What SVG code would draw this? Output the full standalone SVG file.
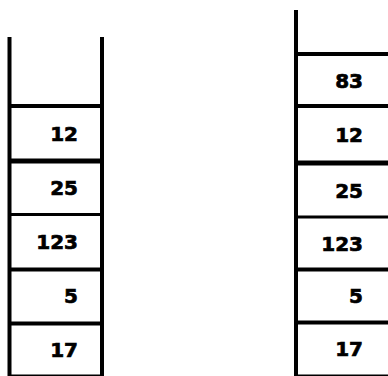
<svg xmlns="http://www.w3.org/2000/svg" width="388" height="376" viewBox="0 0 388 376">
<style>
.w{stroke:#000;stroke-width:4;fill:none}
.h{stroke:#000;fill:none}
.t{font-family:"DejaVu Sans","Liberation Sans",Arial,sans-serif;font-weight:bold;font-size:20px;fill:#000;stroke:#000;stroke-width:0.7;text-anchor:end}
</style>
<rect width="388" height="376" fill="#fff"/>
<g id="stack-left">
  <line class="w" x1="9.5" y1="37" x2="9.5" y2="376"/>
  <line class="w" x1="102" y1="37" x2="102" y2="376"/>
  <line class="h" stroke-width="4" x1="9.5" y1="106" x2="102" y2="106"/>
  <line class="h" stroke-width="5" x1="9.5" y1="161" x2="102" y2="161"/>
  <line class="h" stroke-width="3" x1="9.5" y1="214.5" x2="102" y2="214.5"/>
  <line class="h" stroke-width="4" x1="9.5" y1="269.5" x2="102" y2="269.5"/>
  <line class="h" stroke-width="4" x1="9.5" y1="323.5" x2="102" y2="323.5"/>
  <line class="h" stroke-width="1.5" x1="9.5" y1="375.2" x2="102" y2="375.2"/>
  <g id="left-12"><text class="t" x="78" y="141">12</text></g>
  <g id="left-25"><text class="t" x="78" y="195">25</text></g>
  <g id="left-123"><text class="t" x="78" y="249">123</text></g>
  <g id="left-5"><text class="t" x="78" y="303">5</text></g>
  <g id="left-17"><text class="t" x="78" y="357">17</text></g>
</g>
<g id="stack-right">
  <line class="w" x1="296" y1="10" x2="296" y2="376"/>
  <line class="h" stroke-width="4" x1="296" y1="54" x2="388" y2="54"/>
  <line class="h" stroke-width="4" x1="296" y1="106" x2="388" y2="106"/>
  <line class="h" stroke-width="5" x1="296" y1="163" x2="388" y2="163"/>
  <line class="h" stroke-width="3" x1="296" y1="217" x2="388" y2="217"/>
  <line class="h" stroke-width="4" x1="296" y1="269.5" x2="388" y2="269.5"/>
  <line class="h" stroke-width="4" x1="296" y1="322.5" x2="388" y2="322.5"/>
  <line class="h" stroke-width="1.5" x1="296" y1="375.2" x2="388" y2="375.2"/>
  <g id="right-83"><text class="t" x="363" y="88">83</text></g>
  <g id="right-12"><text class="t" x="363" y="142">12</text></g>
  <g id="right-25"><text class="t" x="363" y="198">25</text></g>
  <g id="right-123"><text class="t" x="363" y="251">123</text></g>
  <g id="right-5"><text class="t" x="363" y="303">5</text></g>
  <g id="right-17"><text class="t" x="363" y="356">17</text></g>
</g>
</svg>
